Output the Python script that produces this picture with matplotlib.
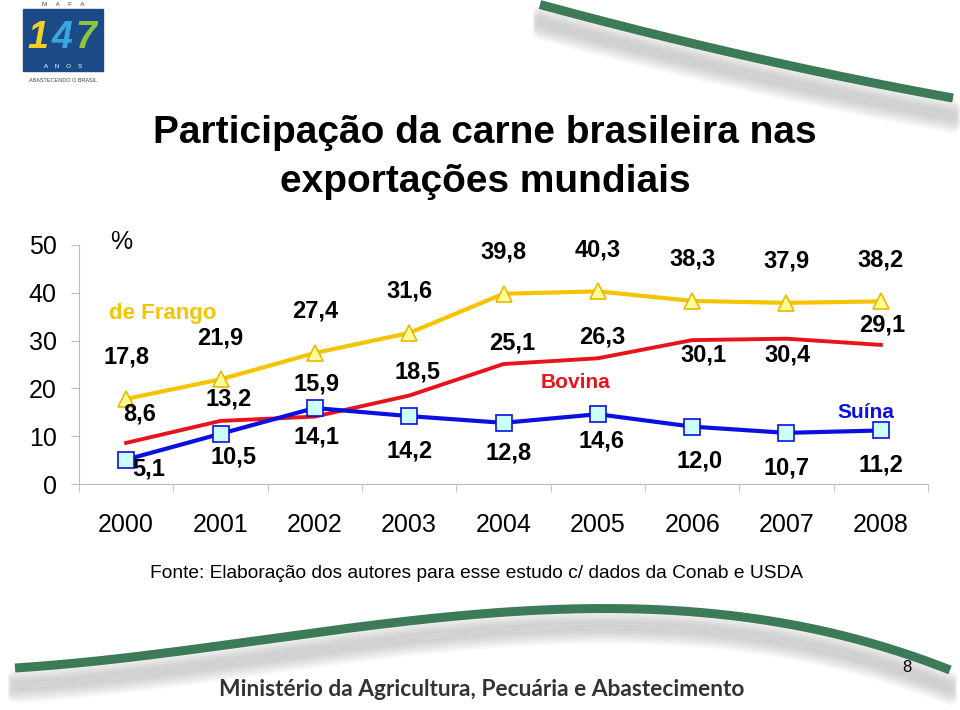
import numpy as np
import matplotlib
matplotlib.use("Agg")
import matplotlib.pyplot as plt
from matplotlib.patches import Rectangle

# data
anos = ['2000', '2001', '2002', '2003', '2004', '2005', '2006', '2007', '2008']
frango = [17.8, 21.9, 27.4, 31.6, 39.8, 40.3, 38.3, 37.9, 38.2]
bovina = [8.6, 13.2, 14.1, 18.5, 25.1, 26.3, 30.1, 30.4, 29.1]
suina = [5.1, 10.5, 15.9, 14.2, 12.8, 14.6, 12.0, 10.7, 11.2]

# label offsets (points) relative to each point
off_frango = [(0, 30)] * 9
off_bovina = [(10, 21), (6, 16), (1, -15), (6, 17), (6, 15), (3, 15), (8, -11), (1, -12), (1, 14)]
off_suina = [(16, -7), (9, -17), (1, 17), (0, -25), (4, -22), (3, -19), (5, -25), (0, -25), (0, -25)]

W, H = 960, 710
fig = plt.figure(figsize=(W / 100, H / 100), dpi=100)
plt.rcParams['font.family'] = ['Liberation Sans', 'DejaVu Sans']

# background decoration layer in pixel coords
bg = fig.add_axes([0, 0, 1, 1], zorder=0)
bg.set_xlim(0, W)
bg.set_ylim(H, 0)
bg.axis('off')

green = '#3d7a57'


def band(xs, ys, x0, x1, deg):
    p = np.polyfit(xs, ys, deg)
    xx = np.linspace(x0, x1, 200)
    yy = np.polyval(p, xx)
    for k in range(9):
        bg.plot(xx, yy + 8 + k * 2.5, color='gray', lw=10, alpha=0.07,
                solid_capstyle='round')
    bg.plot(xx, yy, color=green, lw=6.5, solid_capstyle='butt')


band([15, 320, 480, 640, 840, 950], [668, 632, 614, 609, 635, 670], 15, 950, 4)
band([560, 700, 800, 953], [10, 45, 68, 98], 540, 953, 2)

# logo
bg.add_patch(Rectangle((23, 9), 80, 62, color='#1c4a86'))
bg.text(63, 4, 'M     A     F     A', ha='center', va='center', fontsize=4.5, color='#444')
for dx, d, c in [(38, '1', '#f4d21f'), (62, '4', '#3aa6e0'), (86, '7', '#8cc63f')]:
    bg.text(dx, 38, d, ha='center', va='center', fontsize=27, fontweight='bold',
            style='italic', color=c)
bg.text(63, 66, 'A    N    O    S', ha='center', va='center', fontsize=4.5, color='white')
bg.text(63, 80, 'ABASTECENDO O BRASIL', ha='center', va='center', fontsize=4, color='#444')

# titles
tfont = dict(fontweight='bold', fontsize=28, ha='center', va='center', color='black')
bg.text(485, 133, 'Participação da carne brasileira nas', **tfont)
bg.text(485, 182, 'exportações mundiais', **tfont)

bg.text(476, 574, 'Fonte: Elaboração dos autores para esse estudo c/ dados da Conab e USDA',
        ha='center', va='center', fontsize=13.8)
bg.text(482, 690, 'Ministério da Agricultura, Pecuária e Abastecimento',
        family=['Lato', 'DejaVu Sans'], fontweight='bold', fontsize=16.4,
        ha='center', va='center', color='#333333')
bg.text(907, 668, '8', ha='center', va='center', fontsize=12)

# chart
ax = fig.add_axes([79 / W, 1 - 484 / H, 849 / W, 239 / H], zorder=1)
ax.patch.set_alpha(0)
x = np.arange(len(anos))

ax.plot(x, frango, color='#f5c400', lw=3, marker='^', ms=11,
        mfc='#ffff99', mec='#e8b800', mew=1.2, zorder=3)
ax.plot(x, bovina, color='#e8141b', lw=2.8, zorder=3)
ax.plot(x, suina, color='#0a10e0', lw=3, marker='s', ms=11,
        mfc='#ccffff', mec='#0a10e0', mew=1.2, zorder=3)

lfont = dict(fontsize=17, fontweight='bold', ha='center', va='center',
             textcoords='offset points', color='black')
for vals, offs in [(frango, off_frango), (bovina, off_bovina), (suina, off_suina)]:
    for i, v in enumerate(vals):
        ax.annotate(f'{v:.1f}'.replace('.', ','), (i, v), xytext=offs[i], **lfont)

ax.set_xlim(-0.5, 8.5)
ax.set_ylim(0, 50)
ax.set_yticks(range(0, 51, 10))
ax.set_xticks(x)
ax.set_xticklabels(anos, fontsize=18)
ax.set_xticks(np.arange(-0.5, 9, 1), minor=True)
ax.tick_params(axis='x', which='major', length=0, pad=21)
ax.tick_params(axis='x', which='minor', length=6, color='#bbbbbb', direction='out')
ax.tick_params(axis='y', length=6, color='#bbbbbb', labelsize=18, pad=10)
for s in ['top', 'right']:
    ax.spines[s].set_visible(False)
for s in ['left', 'bottom']:
    ax.spines[s].set_color('#bbbbbb')

bg.text(121, 242, '%', fontsize=18, ha='center', va='center')
bg.text(163, 313, 'de Frango', fontsize=16, fontweight='bold', color='#f5c400',
        ha='center', va='center')
bg.text(575, 382, 'Bovina', fontsize=15, fontweight='bold', color='#e8141b',
        ha='center', va='center')
bg.text(866, 412, 'Suína', fontsize=15, fontweight='bold', color='#0a10e0',
        ha='center', va='center')

fig.savefig('out.png', dpi=100)
